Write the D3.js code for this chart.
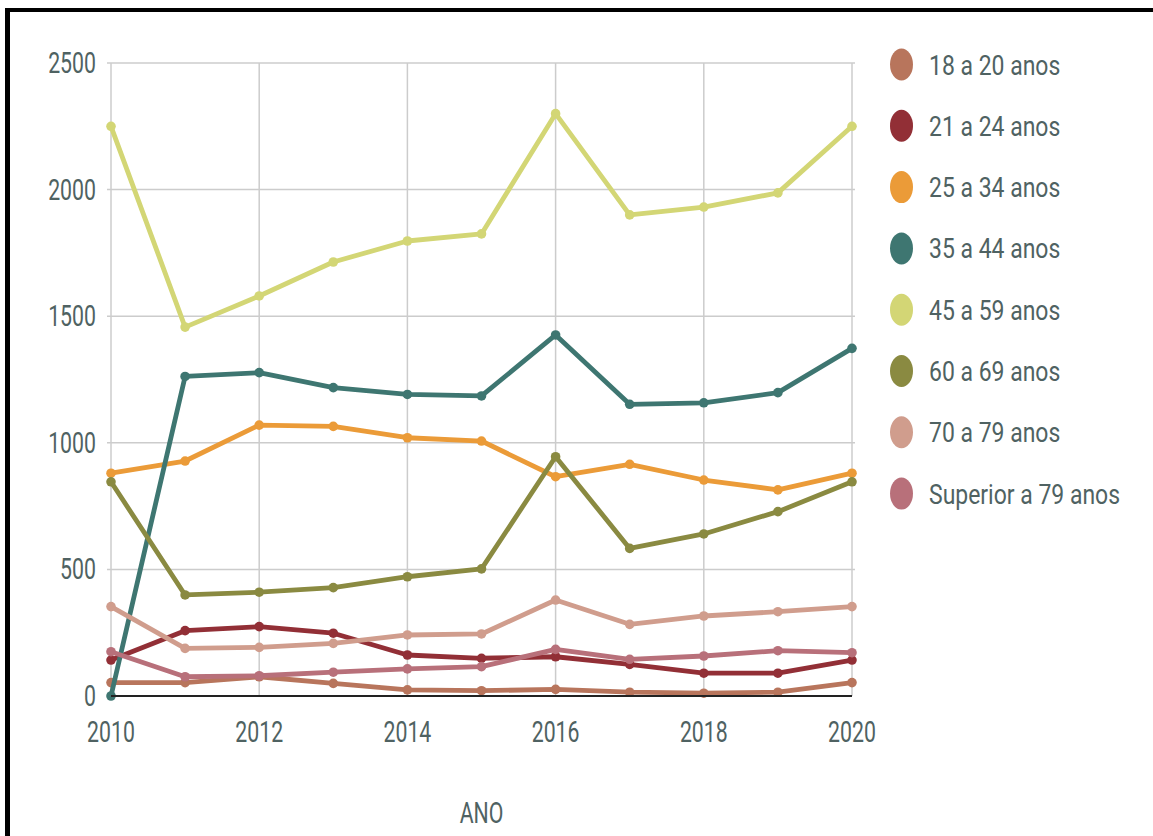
<!DOCTYPE html>
<html>
<head>
<meta charset="utf-8">
<script src="https://cdn.jsdelivr.net/npm/d3@7"></script>
<style>
  html, body { margin: 0; padding: 0; background: #fff; }
  svg { display: block; }
  text { font-family: Roboto, "Liberation Sans", sans-serif; font-weight: 400; fill: #4f6262; }
</style>
</head>
<body>
<svg id="chart" width="1153" height="836"></svg>
<script>
// Years on the x axis
const years = [2010, 2011, 2012, 2013, 2014, 2015, 2016, 2017, 2018, 2019, 2020];

// Age groups (legend order) and their colours
const groups = ["18 a 20 anos", "21 a 24 anos", "25 a 34 anos", "35 a 44 anos",
                "45 a 59 anos", "60 a 69 anos", "70 a 79 anos", "Superior a 79 anos"];
const colors = ["#b8755c", "#922f36", "#eb9b38", "#3e7671", "#d3d675", "#8a8a41", "#d09d8d", "#b8707a"];

// Counts per age group, one value per year
const s18a20   = [53, 53, 76, 50, 24, 21, 26, 15, 11, 15, 53];
const s21a24   = [142, 258, 274, 248, 162, 149, 155, 125, 90, 90, 142];
const s25a34   = [880, 928, 1070, 1065, 1020, 1007, 866, 915, 853, 814, 880];
const s35a44   = [0, 1262, 1277, 1218, 1191, 1185, 1426, 1152, 1158, 1198, 1373];
const s45a59   = [2250, 1457, 1580, 1714, 1797, 1825, 2300, 1900, 1931, 1987, 2250];
const s60a69   = [846, 399, 410, 428, 471, 502, 945, 583, 640, 728, 846];
const s70a79   = [353, 188, 192, 208, 241, 245, 379, 283, 316, 333, 353];
const sSup79   = [175, 76, 80, 94, 107, 116, 184, 145, 158, 179, 171];
const seriesValues = [s18a20, s21a24, s25a34, s35a44, s45a59, s60a69, s70a79, sSup79];

// Axis tick labels
const xTicks = [2010, 2012, 2014, 2016, 2018, 2020];
const yTicks = [0, 500, 1000, 1500, 2000, 2500];

const svg = d3.select("#chart");

// frame: top and left rules
svg.append("rect").attr("x", 5).attr("y", 8).attr("width", 1148).attr("height", 4).attr("fill", "#000");
svg.append("rect").attr("x", 5).attr("y", 8).attr("width", 5).attr("height", 828).attr("fill", "#000");

const x = d3.scaleLinear().domain([2010, 2020]).range([111, 852]);
const y = d3.scaleLinear().domain([0, 2500]).range([696, 63]);

const sx = 0.71; // condensed lettering

// gridlines
const grid = svg.append("g");
grid.selectAll("line.h").data(yTicks.filter(d => d > 0)).join("line")
  .attr("x1", 107).attr("x2", 855)
  .attr("y1", d => y(d)).attr("y2", d => y(d))
  .attr("stroke", "#cccccc").attr("stroke-width", 1.5);
grid.selectAll("line.v").data(xTicks).join("line")
  .attr("x1", d => x(d)).attr("x2", d => x(d))
  .attr("y1", y(2500)).attr("y2", y(0))
  .attr("stroke", "#cccccc").attr("stroke-width", 1.5);

// y tick labels
svg.append("g").selectAll("text").data(yTicks).join("text")
  .attr("transform", d => `translate(96,${y(d) + 10}) scale(${sx},1)`)
  .attr("text-anchor", "end")
  .attr("font-size", 30)
  .text(d => d);

// x tick labels
svg.append("g").selectAll("text").data(xTicks).join("text")
  .attr("transform", d => `translate(${x(d)},742) scale(${sx},1)`)
  .attr("text-anchor", "middle")
  .attr("font-size", 30)
  .text(d => d);

// x axis title
svg.append("text")
  .attr("transform", `translate(${(x(2010) + x(2020)) / 2},823) scale(${sx},1)`)
  .attr("text-anchor", "middle")
  .attr("font-size", 30)
  .text("ANO");

// series lines and points
const line = d3.line().x((d, i) => x(years[i])).y(d => y(d));
const plot = svg.append("g");
seriesValues.forEach((vals, k) => {
  const g = plot.append("g");
  g.append("path").datum(vals)
    .attr("d", line)
    .attr("fill", "none")
    .attr("stroke", colors[k])
    .attr("stroke-width", 4.8)
    .attr("stroke-linejoin", "round");
  g.selectAll("circle").data(vals).join("circle")
    .attr("cx", (d, i) => x(years[i]))
    .attr("cy", d => y(d))
    .attr("r", 4.8)
    .attr("fill", colors[k]);
});

// baseline
svg.append("line")
  .attr("x1", x(2010)).attr("x2", x(2020))
  .attr("y1", y(0)).attr("y2", y(0))
  .attr("stroke", "#222").attr("stroke-width", 2);

// legend
const legend = svg.append("g");
groups.forEach((name, k) => {
  const cy = 64.5 + k * 61.3;
  legend.append("ellipse")
    .attr("cx", 901.5).attr("cy", cy)
    .attr("rx", 11.5).attr("ry", 16)
    .attr("fill", colors[k]);
  legend.append("text")
    .attr("transform", `translate(929,${cy + 10}) scale(0.82,1)`)
    .attr("font-size", 28)
    .text(name);
});
</script>
</body>
</html>
